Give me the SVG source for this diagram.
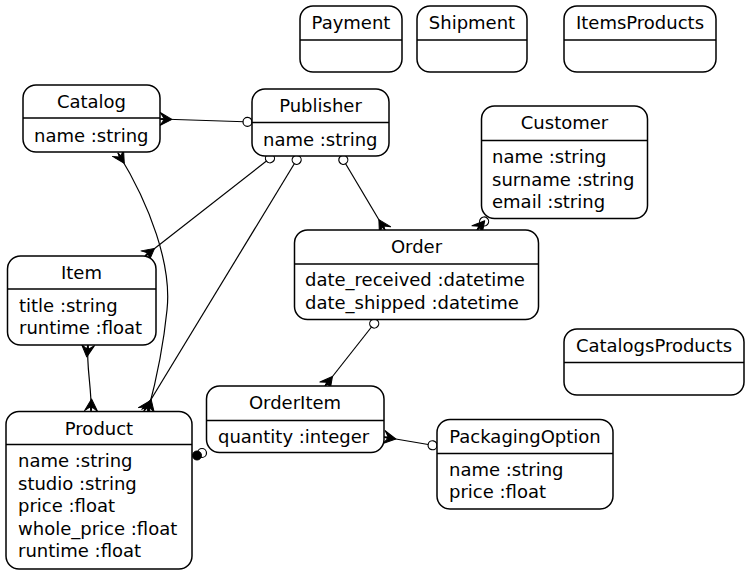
<svg xmlns="http://www.w3.org/2000/svg" width="749" height="576" viewBox="0 0 749 576">
<style>
.box{fill:#fff;stroke:#000;stroke-width:1.5}
.div{stroke:#000;stroke-width:1.5}
text{font-family:"DejaVu Sans","Liberation Sans",sans-serif;font-size:18px;fill:#000}
.t{text-anchor:middle}
.e{fill:none;stroke:#000;stroke-width:1.2}
</style>
<defs>
<marker id="crow" viewBox="-15 -10 20 20" markerWidth="20" markerHeight="20" refX="0" refY="0" markerUnits="userSpaceOnUse" orient="auto-start-reverse" overflow="visible">
<path d="M-12,0 L0,-6.5 L-4,-1 L0,0 L-4,1 L0,6.5 Z" fill="#000" stroke="#000" stroke-width="1" stroke-linejoin="round"/>
</marker>
<marker id="odot" viewBox="-15 -10 20 20" markerWidth="20" markerHeight="20" refX="0" refY="0" markerUnits="userSpaceOnUse" orient="auto-start-reverse" overflow="visible">
<circle cx="-4.5" cy="0" r="4.5" fill="#fff" stroke="#000" stroke-width="1.2"/>
</marker>
</defs>

<g id="connectors">
<path class="e" d="M160,119 L252,122" marker-start="url(#crow)" marker-end="url(#odot)"/>
<path class="e" d="M118,153 C150,205 172,265 167,310 C163,350 155,385 148,411" marker-start="url(#crow)" marker-end="url(#crow)"/>
<path class="e" d="M273.5,155.5 L145,256" marker-start="url(#odot)" marker-end="url(#crow)"/>
<path class="e" d="M299,156 L144,411" marker-start="url(#odot)" marker-end="url(#crow)"/>
<path class="e" d="M341,156 L385,230" marker-start="url(#odot)" marker-end="url(#crow)"/>
<path class="e" d="M487,218 L477,230" marker-start="url(#odot)" marker-end="url(#crow)"/>
<path class="e" d="M377,320 L325,386" marker-start="url(#odot)" marker-end="url(#crow)"/>
<path class="e" d="M384,437 L437,446" marker-start="url(#crow)" marker-end="url(#odot)"/>
<path class="e" d="M88,345 C86,365 92,390 91,411" marker-start="url(#crow)" marker-end="url(#crow)"/>
<circle cx="202" cy="453" r="4.5" fill="#fff" stroke="#000" stroke-width="1.2"/>
<circle cx="197" cy="455.5" r="4.5" fill="#000" stroke="#000" stroke-width="1"/>
</g>

<g id="Payment">
<rect class="box" x="300" y="6" width="102" height="66" rx="13"/>
<line class="div" x1="300" y1="40" x2="402" y2="40"/>
<text class="t" x="351" y="29">Payment</text>
</g>
<g id="Shipment">
<rect class="box" x="417" y="6" width="110" height="66" rx="13"/>
<line class="div" x1="417" y1="40" x2="527" y2="40"/>
<text class="t" x="472" y="29">Shipment</text>
</g>
<g id="ItemsProducts">
<rect class="box" x="564" y="6" width="152" height="66" rx="13"/>
<line class="div" x1="564" y1="40" x2="716" y2="40"/>
<text class="t" x="640" y="29">ItemsProducts</text>
</g>
<g id="Catalog">
<rect class="box" x="23" y="85" width="137" height="67" rx="13"/>
<line class="div" x1="23" y1="118" x2="160" y2="118"/>
<text class="t" x="91.5" y="108">Catalog</text>
<text x="34" y="142">name :string</text>
</g>
<g id="Publisher">
<rect class="box" x="252" y="89" width="137" height="67" rx="13"/>
<line class="div" x1="252" y1="122.5" x2="389" y2="122.5"/>
<text class="t" x="320.5" y="112">Publisher</text>
<text x="263" y="145.5">name :string</text>
</g>
<g id="Customer">
<rect class="box" x="481.5" y="106" width="166" height="112.5" rx="13"/>
<line class="div" x1="481.5" y1="140.5" x2="647.5" y2="140.5"/>
<text class="t" x="564.5" y="128.5">Customer</text>
<text x="492" y="163">name :string</text>
<text x="492" y="185.5">surname :string</text>
<text x="492" y="208">email :string</text>
</g>
<g id="Item">
<rect class="box" x="7.5" y="256" width="148.5" height="89" rx="13"/>
<line class="div" x1="7.5" y1="289" x2="156" y2="289"/>
<text class="t" x="81.5" y="279">Item</text>
<text x="19" y="311.5">title :string</text>
<text x="19" y="334">runtime :float</text>
</g>
<g id="Order">
<rect class="box" x="294.5" y="230" width="244" height="89.5" rx="13"/>
<line class="div" x1="294.5" y1="264" x2="538.5" y2="264"/>
<text class="t" x="416.5" y="252.5">Order</text>
<text x="305" y="286">date_received :datetime</text>
<text x="305" y="308.5">date_shipped :datetime</text>
</g>
<g id="CatalogsProducts">
<rect class="box" x="564" y="329" width="180" height="66" rx="13"/>
<line class="div" x1="564" y1="362.5" x2="744" y2="362.5"/>
<text class="t" x="654" y="352">CatalogsProducts</text>
</g>
<g id="OrderItem">
<rect class="box" x="206.5" y="386" width="177.5" height="66.5" rx="13"/>
<line class="div" x1="206.5" y1="420.5" x2="384" y2="420.5"/>
<text class="t" x="295" y="408.5">OrderItem</text>
<text x="218" y="443">quantity :integer</text>
</g>
<g id="PackagingOption">
<rect class="box" x="437" y="419.5" width="176" height="89.5" rx="13"/>
<line class="div" x1="437" y1="453.5" x2="613" y2="453.5"/>
<text class="t" x="525" y="442.5">PackagingOption</text>
<text x="449" y="475.5">name :string</text>
<text x="449" y="498">price :float</text>
</g>
<g id="Product">
<rect class="box" x="6" y="411.5" width="186" height="157.5" rx="13"/>
<line class="div" x1="6" y1="444.5" x2="192" y2="444.5"/>
<text class="t" x="99" y="435">Product</text>
<text x="18" y="467">name :string</text>
<text x="18" y="489.5">studio :string</text>
<text x="18" y="512">price :float</text>
<text x="18" y="534.5">whole_price :float</text>
<text x="18" y="557">runtime :float</text>
</g>
</svg>
